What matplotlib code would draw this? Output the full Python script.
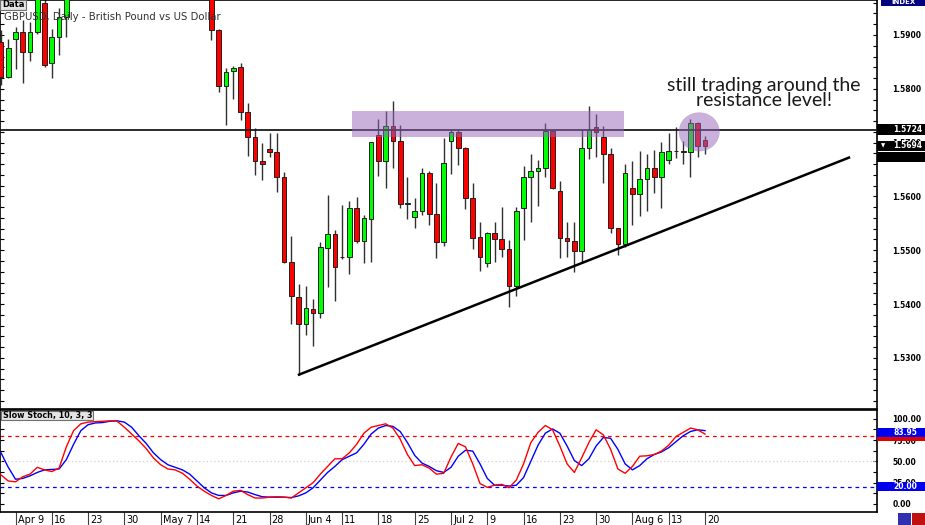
import matplotlib
matplotlib.use("Agg")
import matplotlib.pyplot as plt
import matplotlib.transforms as mtransforms
from matplotlib.patches import Rectangle, Ellipse
import numpy as np

# GBPUSD daily candles, index 0 = Apr 5 2012, index 97 = Aug 20 2012
opens = [1.5887, 1.5822, 1.5893, 1.5906, 1.5868, 1.5906, 1.5960, 1.5848, 1.5896, 1.5933,
         1.5985, 1.6020, 1.6045, 1.6090, 1.6130, 1.6150, 1.6185, 1.6215, 1.6240, 1.6200,
         1.6170, 1.6140, 1.6160, 1.6130, 1.6150, 1.6100, 1.6080, 1.6050, 1.6030, 1.6010,
         1.5909, 1.5805, 1.5833, 1.5840, 1.5757, 1.5710, 1.5665, 1.5688, 1.5682, 1.5636,
         1.5478, 1.5413, 1.5363, 1.5391, 1.5383, 1.5504, 1.5530, 1.5488, 1.5487, 1.5578,
         1.5517, 1.5558, 1.5714, 1.5665, 1.5731, 1.5703, 1.5587, 1.5562, 1.5573, 1.5643,
         1.5567, 1.5515, 1.5703, 1.5720, 1.5690, 1.5597, 1.5524, 1.5476, 1.5532, 1.5521,
         1.5502, 1.5433, 1.5578, 1.5636, 1.5647, 1.5653, 1.5722, 1.5610, 1.5523, 1.5517,
         1.5498, 1.5690, 1.5729, 1.5710, 1.5679, 1.5541, 1.5511, 1.5615, 1.5604, 1.5632,
         1.5653, 1.5636, 1.5667, 1.5684, 1.5684, 1.5682, 1.5736, 1.5705]
highs = [1.5909, 1.5893, 1.5915, 1.5928, 1.5925, 1.5995, 1.5975, 1.5911, 1.5950, 1.6000,
         1.6035, 1.6060, 1.6100, 1.6140, 1.6170, 1.6200, 1.6230, 1.6300, 1.6260, 1.6230,
         1.6190, 1.6180, 1.6200, 1.6170, 1.6170, 1.6130, 1.6100, 1.6080, 1.6060, 1.6020,
         1.5911, 1.5839, 1.5842, 1.5848, 1.5773, 1.5727, 1.5699, 1.5718, 1.5718, 1.5645,
         1.5526, 1.5437, 1.5433, 1.5409, 1.5515, 1.5603, 1.5537, 1.5584, 1.5592, 1.5599,
         1.5565, 1.5701, 1.5744, 1.5759, 1.5777, 1.5733, 1.5636, 1.5597, 1.5653, 1.5647,
         1.5625, 1.5708, 1.5723, 1.5723, 1.5692, 1.5625, 1.5552, 1.5534, 1.5552, 1.5580,
         1.5519, 1.5580, 1.5656, 1.5679, 1.5667, 1.5736, 1.5722, 1.5629, 1.5552, 1.5552,
         1.5723, 1.5768, 1.5753, 1.5731, 1.5690, 1.5541, 1.5660, 1.5665, 1.5684, 1.5679,
         1.5686, 1.5701, 1.5718, 1.5729, 1.5703, 1.5744, 1.5738, 1.5712]
lows = [1.5807, 1.5820, 1.5837, 1.5811, 1.5852, 1.5902, 1.5840, 1.5820, 1.5863, 1.5896,
        1.5975, 1.5990, 1.6030, 1.6070, 1.6110, 1.6130, 1.6160, 1.6190, 1.6180, 1.6150,
        1.6120, 1.6100, 1.6110, 1.6090, 1.6080, 1.6060, 1.6030, 1.6010, 1.5990, 1.5891,
        1.5794, 1.5733, 1.5781, 1.5742, 1.5675, 1.5640, 1.5630, 1.5673, 1.5608, 1.5476,
        1.5363, 1.5268, 1.5343, 1.5322, 1.5374, 1.5432, 1.5405, 1.5483, 1.5456, 1.5513,
        1.5476, 1.5478, 1.5638, 1.5615, 1.5653, 1.5578, 1.5558, 1.5541, 1.5565, 1.5547,
        1.5485, 1.5508, 1.5642, 1.5658, 1.5576, 1.5502, 1.5461, 1.5469, 1.5478, 1.5487,
        1.5394, 1.5415, 1.5519, 1.5552, 1.5582, 1.5636, 1.5614, 1.5485, 1.5487, 1.5459,
        1.5476, 1.5669, 1.5673, 1.5625, 1.5532, 1.5491, 1.5506, 1.5547, 1.5563, 1.5573,
        1.5606, 1.5578, 1.5660, 1.5671, 1.5660, 1.5636, 1.5673, 1.5679]
closes = [1.5822, 1.5876, 1.5906, 1.5868, 1.5906, 1.5980, 1.5844, 1.5896, 1.5933, 1.5985,
          1.6020, 1.6045, 1.6090, 1.6130, 1.6150, 1.6185, 1.6215, 1.6240, 1.6200, 1.6170,
          1.6140, 1.6160, 1.6130, 1.6150, 1.6100, 1.6080, 1.6050, 1.6030, 1.6010, 1.5909,
          1.5805, 1.5831, 1.5839, 1.5757, 1.5710, 1.5665, 1.5660, 1.5682, 1.5636, 1.5478,
          1.5415, 1.5363, 1.5392, 1.5383, 1.5506, 1.5530, 1.5469, 1.5487, 1.5578, 1.5517,
          1.5560, 1.5701, 1.5665, 1.5731, 1.5703, 1.5586, 1.5586, 1.5573, 1.5643, 1.5567,
          1.5515, 1.5662, 1.5720, 1.5690, 1.5597, 1.5523, 1.5487, 1.5532, 1.5521, 1.5502,
          1.5433, 1.5573, 1.5636, 1.5647, 1.5653, 1.5722, 1.5615, 1.5523, 1.5517, 1.5498,
          1.5690, 1.5723, 1.5720, 1.5679, 1.5541, 1.5511, 1.5643, 1.5604, 1.5632, 1.5653,
          1.5636, 1.5682, 1.5684, 1.5684, 1.5683, 1.5736, 1.5694, 1.5694]

# Slow stochastic (10, 3, 3): %K (red) and %D (blue)
stoch_k = [34, 27, 26, 32, 35, 43, 40, 38, 42, 67,
           86, 94, 96, 96.5, 97, 97.5, 97, 90, 82, 74,
           65, 54, 46, 41, 40, 36, 29, 21, 15, 10,
           6, 10, 15, 16, 11, 7, 7, 8, 8.5, 8,
           7, 13, 19, 25, 35, 44, 53, 53, 60, 70,
           83, 90, 92, 94, 89, 76, 58, 45, 46, 42,
           35, 36, 55, 71, 67, 47, 24, 19.5, 22, 23,
           19, 28, 47, 72, 84, 92, 87, 68, 47, 37,
           54, 72, 87, 81, 64, 41, 36, 44, 56, 56.5,
           58, 62, 69, 79, 84, 89, 87, 82]
stoch_d = [60, 43, 29, 30, 33, 37, 40, 40.5, 41, 52,
           70, 86, 93, 95, 95.5, 97, 97.5, 96, 90, 80,
           71, 60, 52, 46, 43, 40, 35, 27, 19, 13,
           10, 10, 13, 15, 14, 11, 8.5, 8, 8, 8,
           7.5, 9.5, 13, 19, 28, 37, 44, 52, 56, 60,
           70, 82, 89, 92, 91, 85, 72, 57, 48, 44,
           39, 37, 43, 56, 63, 62, 47, 30, 22, 22,
           21, 22, 31, 50, 69, 83, 88, 83, 68, 51,
           45, 53, 68, 78, 77, 64, 47, 40, 45, 53,
           58, 61, 66, 73, 80, 85, 87, 86]

date_ticks = [2, 7, 12, 17, 22, 27, 32, 37, 42, 47, 52, 57, 62, 67, 72, 77, 82, 87, 92, 97]
date_labels = ["Apr 9", "16", "23", "30", "May 7", "14", "21", "28", "Jun 4", "11",
               "18", "25", "Jul 2", "9", "16", "23", "30", "Aug 6", "13", "20"]

resistance = 1.5724
last_price = 1.5694
trend_x = [40.9, 117.0]
trend_y = [1.5268, 1.5673]
zone_x = [48.4, 85.8]
zone_y = [1.5710, 1.5759]
circle_xy = (96.2, 1.5720)
stoch_last = 83.95

W, H = 925, 525
def fx(px): return px / W
def fy(py): return 1 - py / H

fig = plt.figure(figsize=(W / 100, H / 100), dpi=100, facecolor="white")
ax = fig.add_axes([0, fy(409), fx(877), 409 / H])
ax2 = fig.add_axes([0, fy(512), fx(877), 102 / H])

o, h, l, c = map(np.array, (opens, highs, lows, closes))
idx = np.arange(len(o))
up = c >= o
bot = np.minimum(o, c)
hgt = np.maximum(np.abs(c - o), 0.00002)

ax.vlines(idx, l, h, color="#303030", lw=1, zorder=2)
ax.bar(idx[up], hgt[up], bottom=bot[up], width=0.64, color="#00ff00",
       edgecolor="#202020", lw=0.7, zorder=3)
ax.bar(idx[~up], hgt[~up], bottom=bot[~up], width=0.64, color="#ff0000",
       edgecolor="#202020", lw=0.7, zorder=3)

ax.axhline(resistance, color="#1a1a1a", lw=1.3, zorder=4)
ax.plot(trend_x, trend_y, color="black", lw=1.8, zorder=4, solid_capstyle="butt")
ax.add_patch(Rectangle((zone_x[0], zone_y[0]), zone_x[1] - zone_x[0], zone_y[1] - zone_y[0],
                       fc="#9565b8", alpha=0.5, ec="none", zorder=5))
ax.add_patch(Ellipse(circle_xy, 5.65, 0.00725, fc="#9565b8", alpha=0.5, ec="none", zorder=5))

ax.set_xlim(-0.14, 120.7)
ax.set_ylim(1.5205, 1.5965)
ax.set_xticks([])
ax.yaxis.tick_right()
ax.set_yticks(np.arange(1.53, 1.595, 0.01),
              labels=[f"{v:.4f}" for v in np.arange(1.53, 1.595, 0.01)],
              fontweight="bold", fontsize=5.5)
ax.set_yticks(np.arange(1.522, 1.5965, 0.002), minor=True)
ax.tick_params(axis="y", which="both", left=True, right=True, labelleft=False,
               labelright=True, direction="in", length=3, width=0.8, pad=11)
for s in ax.spines.values():
    s.set_linewidth(1.2)

# price boxes on the right scale
tr = mtransforms.blended_transform_factory(ax.transAxes, ax.transData)
ax.add_patch(Rectangle((1.0, resistance - 0.00102), 0.055, 0.00204, fc="black",
                       transform=tr, clip_on=False, zorder=10))
ax.text(893 / 877, resistance, f"{resistance:.4f}", transform=tr, color="white",
        fontsize=5.5, fontweight="bold", va="center", zorder=11, clip_on=False)
ax.add_patch(Rectangle((1.0, last_price - 0.00093), 0.055, 0.00186, fc="black",
                       transform=tr, clip_on=False, zorder=10))
ax.add_patch(Rectangle((1.0, 1.56632), 0.055, 0.00185, fc="black",
                       transform=tr, clip_on=False, zorder=10))
ax.text(893 / 877, last_price, f"{last_price:.4f}", transform=tr, color="white",
        fontsize=5.5, fontweight="bold", va="center", zorder=11, clip_on=False)
ax.text(881 / 877, last_price, "▼", transform=tr, color="white",
        fontsize=4, va="center", zorder=11, clip_on=False)

# stochastic panel
ax2.plot(idx, stoch_d, color="#0000ff", lw=1, zorder=3)
ax2.plot(idx, stoch_k, color="#ff0000", lw=1, zorder=4)
ax2.axhline(80, color="#ff0000", ls=(0, (3, 3)), lw=0.9)
ax2.axhline(20, color="#0000ff", ls=(0, (3, 3)), lw=0.9)
ax2.axhline(50, color="#d0d0d0", ls=(0, (1, 2)), lw=0.9)
ax2.set_xlim(-0.14, 120.7)
ax2.set_ylim(-9.4, 110.2)
ax2.yaxis.tick_right()
ax2.set_yticks([0, 25, 50, 75, 100], labels=["0.00", "25.00", "50.00", "75.00", "100.00"],
               fontweight="bold", fontsize=5.5)
ax2.set_yticks(np.arange(-0.0, 110, 12.5), minor=True)
ax2.tick_params(axis="y", which="both", left=True, right=True, labelleft=False,
                labelright=True, direction="in", length=3, width=0.8, pad=11)
ax2.set_xticks(date_ticks, labels=date_labels, fontsize=7)
ax2.tick_params(axis="x", direction="out", length=9.4, width=0.8, pad=-7, color="#404040")
shift = mtransforms.ScaledTranslation(1.5 / 72, 0, fig.dpi_scale_trans)
for lab in ax2.get_xticklabels():
    lab.set_ha("left")
    lab.set_transform(lab.get_transform() + shift)
for s in ax2.spines.values():
    s.set_linewidth(1.2)

tr2 = mtransforms.blended_transform_factory(ax2.transAxes, ax2.transData)
ax2.add_patch(Rectangle((1.0, 74.4), 0.055, 11.2, fc="#e00000", transform=tr2,
                        clip_on=False, zorder=9))
ax2.add_patch(Rectangle((1.0, stoch_last - 5.3), 0.055, 10.6, fc="#0000ee", transform=tr2,
                        clip_on=False, zorder=10))
ax2.text(893 / 877, stoch_last, f"{stoch_last:.2f}", transform=tr2, color="white",
         fontsize=5.5, fontweight="bold", va="center", zorder=11, clip_on=False)
ax2.add_patch(Rectangle((1.0, 15.2), 0.055, 10.6, fc="#0000ee", transform=tr2,
                        clip_on=False, zorder=10))
ax2.text(893 / 877, 20, "20.00", transform=tr2, color="white",
         fontsize=5.5, fontweight="bold", va="center", zorder=11, clip_on=False)

# labels and decorations
fig.patches.append(Rectangle((0, fy(9.5)), fx(26), 9.5 / H, fc="#e4e4e4", ec="#707070",
                             lw=0.8, transform=fig.transFigure, zorder=20))
fig.text(fx(2), fy(4.8), "Data", fontsize=6, fontweight="bold", va="center", zorder=21)
fig.text(fx(4), fy(17), "GBPUSD, Daily - British Pound vs US Dollar", fontsize=7.3,
         color="#303030", va="center", zorder=21)
fig.patches.append(Rectangle((fx(1), fy(420)), fx(92), 9.5 / H, fc="#e4e4e4", ec="#707070",
                             lw=0.8, transform=fig.transFigure, zorder=20))
fig.text(fx(3), fy(415.5), "Slow Stoch, 10, 3, 3", fontsize=5.8, fontweight="bold",
         va="center", zorder=21)
fig.text(fx(764), fy(93), "still trading around the\nresistance level!", ha="center",
         va="center", fontsize=14, family="Lato", linespacing=0.9,
         color="#1a1a1a", zorder=21)

fig.patches.append(Rectangle((fx(881), fy(6)), fx(44), 6 / H, fc="#000080",
                             transform=fig.transFigure, zorder=20))
fig.text(fx(903), fy(2.5), "INDEX", fontsize=5, color="white", fontweight="bold",
         ha="center", va="center", zorder=21)
fig.patches.append(Rectangle((fx(898), 0), fx(13), 12 / H, fc="#3030b0",
                             transform=fig.transFigure, zorder=20))
fig.patches.append(Rectangle((fx(912), 0), fx(13), 12 / H, fc="#c01010",
                             transform=fig.transFigure, zorder=20))

fig.savefig("out.png", dpi=100, facecolor="white")
